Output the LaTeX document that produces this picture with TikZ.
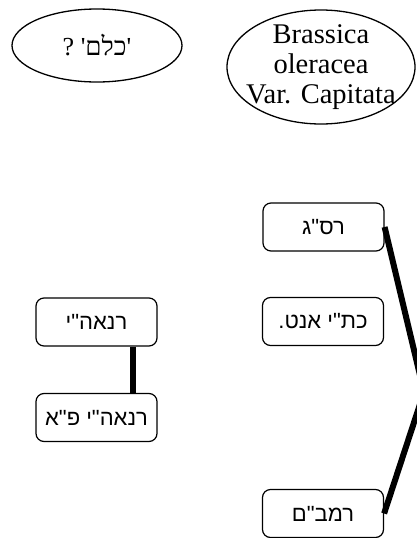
\documentclass[tikz,border=0pt]{standalone}
\usepackage{fontspec}
\setmainfont{Liberation Serif}
\newfontfamily\hebserif[Script=Hebrew]{Liberation Serif}
\newfontfamily\hebsans[Script=Hebrew]{Liberation Sans}
\TeXXeTstate=1
\usetikzlibrary{shapes.geometric}
\tikzset{
  oval/.style={draw, line width=1.3pt, ellipse, inner sep=0pt},
  hbox/.style={draw, line width=1.2pt, rounded corners=8pt, minimum width=121pt, minimum height=48pt, inner sep=0pt, font=\hebsans\fontsize{22}{26}\selectfont},
  fatline/.style={line width=6pt}
}
\begin{document}
\begin{tikzpicture}[x=1pt,y=-1pt]
\useasboundingbox (0,0) rectangle (416,538);
\node[oval, minimum width=170pt, minimum height=73pt, font=\hebserif\fontsize{26}{30}\selectfont] (e1) at (97,45.5) {\beginR'כלם' ?\endR};
\node[oval, inner xsep=-12pt, inner ysep=-10pt, minimum width=188pt, minimum height=114pt, align=center, font=\fontsize{28.5}{30}\selectfont] (e2) at (321,67) {Brassica\\oleracea\\Var. Capitata};
\node[hbox] (rsg) at (323.5,227) {\beginR רס"ג\endR};
\node[hbox] (ktb) at (323,321.5) {\beginR כת"י אנט.\endR};
\node[hbox] (rnh) at (96.5,322) {\beginR רנאה"י\endR};
\node[hbox] (rnhp) at (96.5,417.5) {\beginR רנאה"י פ"א\endR};
\node[hbox] (rmb) at (323,513.5) {\beginR רמב"ם\endR};
\coordinate (elbow) at (424,392);
\draw[fatline] ([xshift=36.5pt]rnh.south) -- ([xshift=36.5pt]rnhp.north);
\draw[fatline] (rsg.east) -- (elbow) -- (rmb.east);
\end{tikzpicture}
\end{document}
